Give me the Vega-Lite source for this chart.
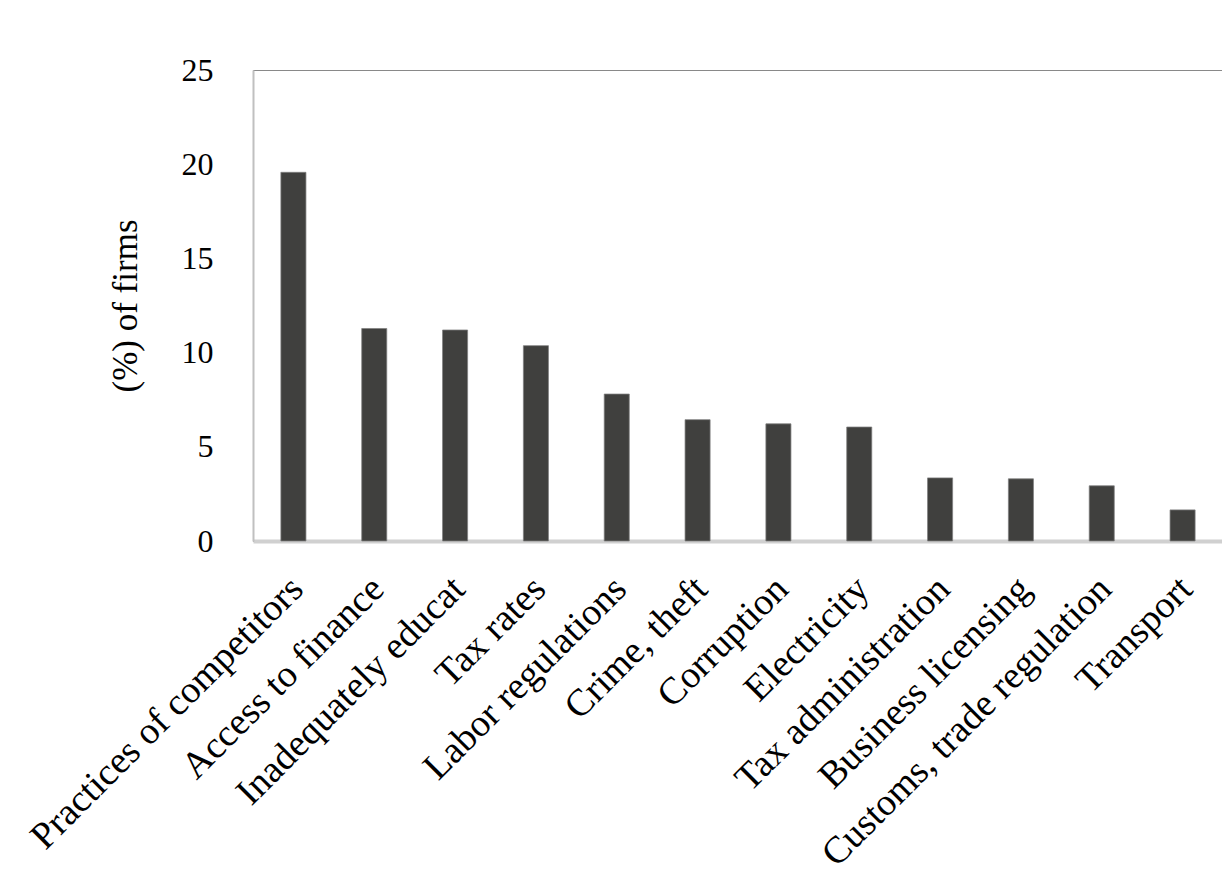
{
  "$schema": "https://vega.github.io/schema/vega-lite/v6.json",
  "autosize": "none",
  "padding": {"left": 253, "top": 70, "right": 0, "bottom": 338},
  "width": 970,
  "height": 471,
  "background": "white",
  "config": {
    "font": "Liberation Serif",
    "view": {"stroke": "#898989", "strokeWidth": 1}
  },
  "data": {
    "values": [
      {"obstacle": "Practices of competitors", "pct": 19.57},
      {"obstacle": "Access to finance", "pct": 11.28},
      {"obstacle": "Inadequately educat", "pct": 11.2},
      {"obstacle": "Tax rates", "pct": 10.37},
      {"obstacle": "Labor regulations", "pct": 7.8},
      {"obstacle": "Crime, theft", "pct": 6.44},
      {"obstacle": "Corruption", "pct": 6.22},
      {"obstacle": "Electricity", "pct": 6.05},
      {"obstacle": "Tax administration", "pct": 3.35},
      {"obstacle": "Business licensing", "pct": 3.3},
      {"obstacle": "Customs, trade regulation", "pct": 2.93},
      {"obstacle": "Transport", "pct": 1.65}
    ]
  },
  "mark": {"type": "bar", "fill": "#40403e", "stroke": "#7f7f7f", "strokeWidth": 0.75},
  "encoding": {
    "x": {
      "field": "obstacle",
      "type": "nominal",
      "sort": null,
      "scale": {"paddingInner": 0.69, "paddingOuter": 0.345},
      "axis": {
        "title": null,
        "ticks": false,
        "domainColor": "#d0d0d0",
        "domainWidth": 4,
        "labelAngle": -45,
        "labelAlign": "right",
        "labelBaseline": "middle",
        "labelFont": "Liberation Serif",
        "labelFontSize": 38,
        "labelColor": "black",
        "labelPadding": 42,
        "labelOffset": 4,
        "labelLimit": 0
      }
    },
    "y": {
      "field": "pct",
      "type": "quantitative",
      "scale": {"domain": [0, 25]},
      "axis": {
        "title": "(%) of firms",
        "titleFont": "Liberation Serif",
        "titleFontSize": 35,
        "titleFontWeight": "normal",
        "titleColor": "black",
        "titlePadding": 38,
        "values": [0, 5, 10, 15, 20, 25],
        "grid": false,
        "ticks": false,
        "domainColor": "#c0c0c0",
        "domainWidth": 2,
        "labelFont": "Liberation Serif",
        "labelFontSize": 32,
        "labelColor": "black",
        "labelPadding": 40
      }
    }
  }
}
